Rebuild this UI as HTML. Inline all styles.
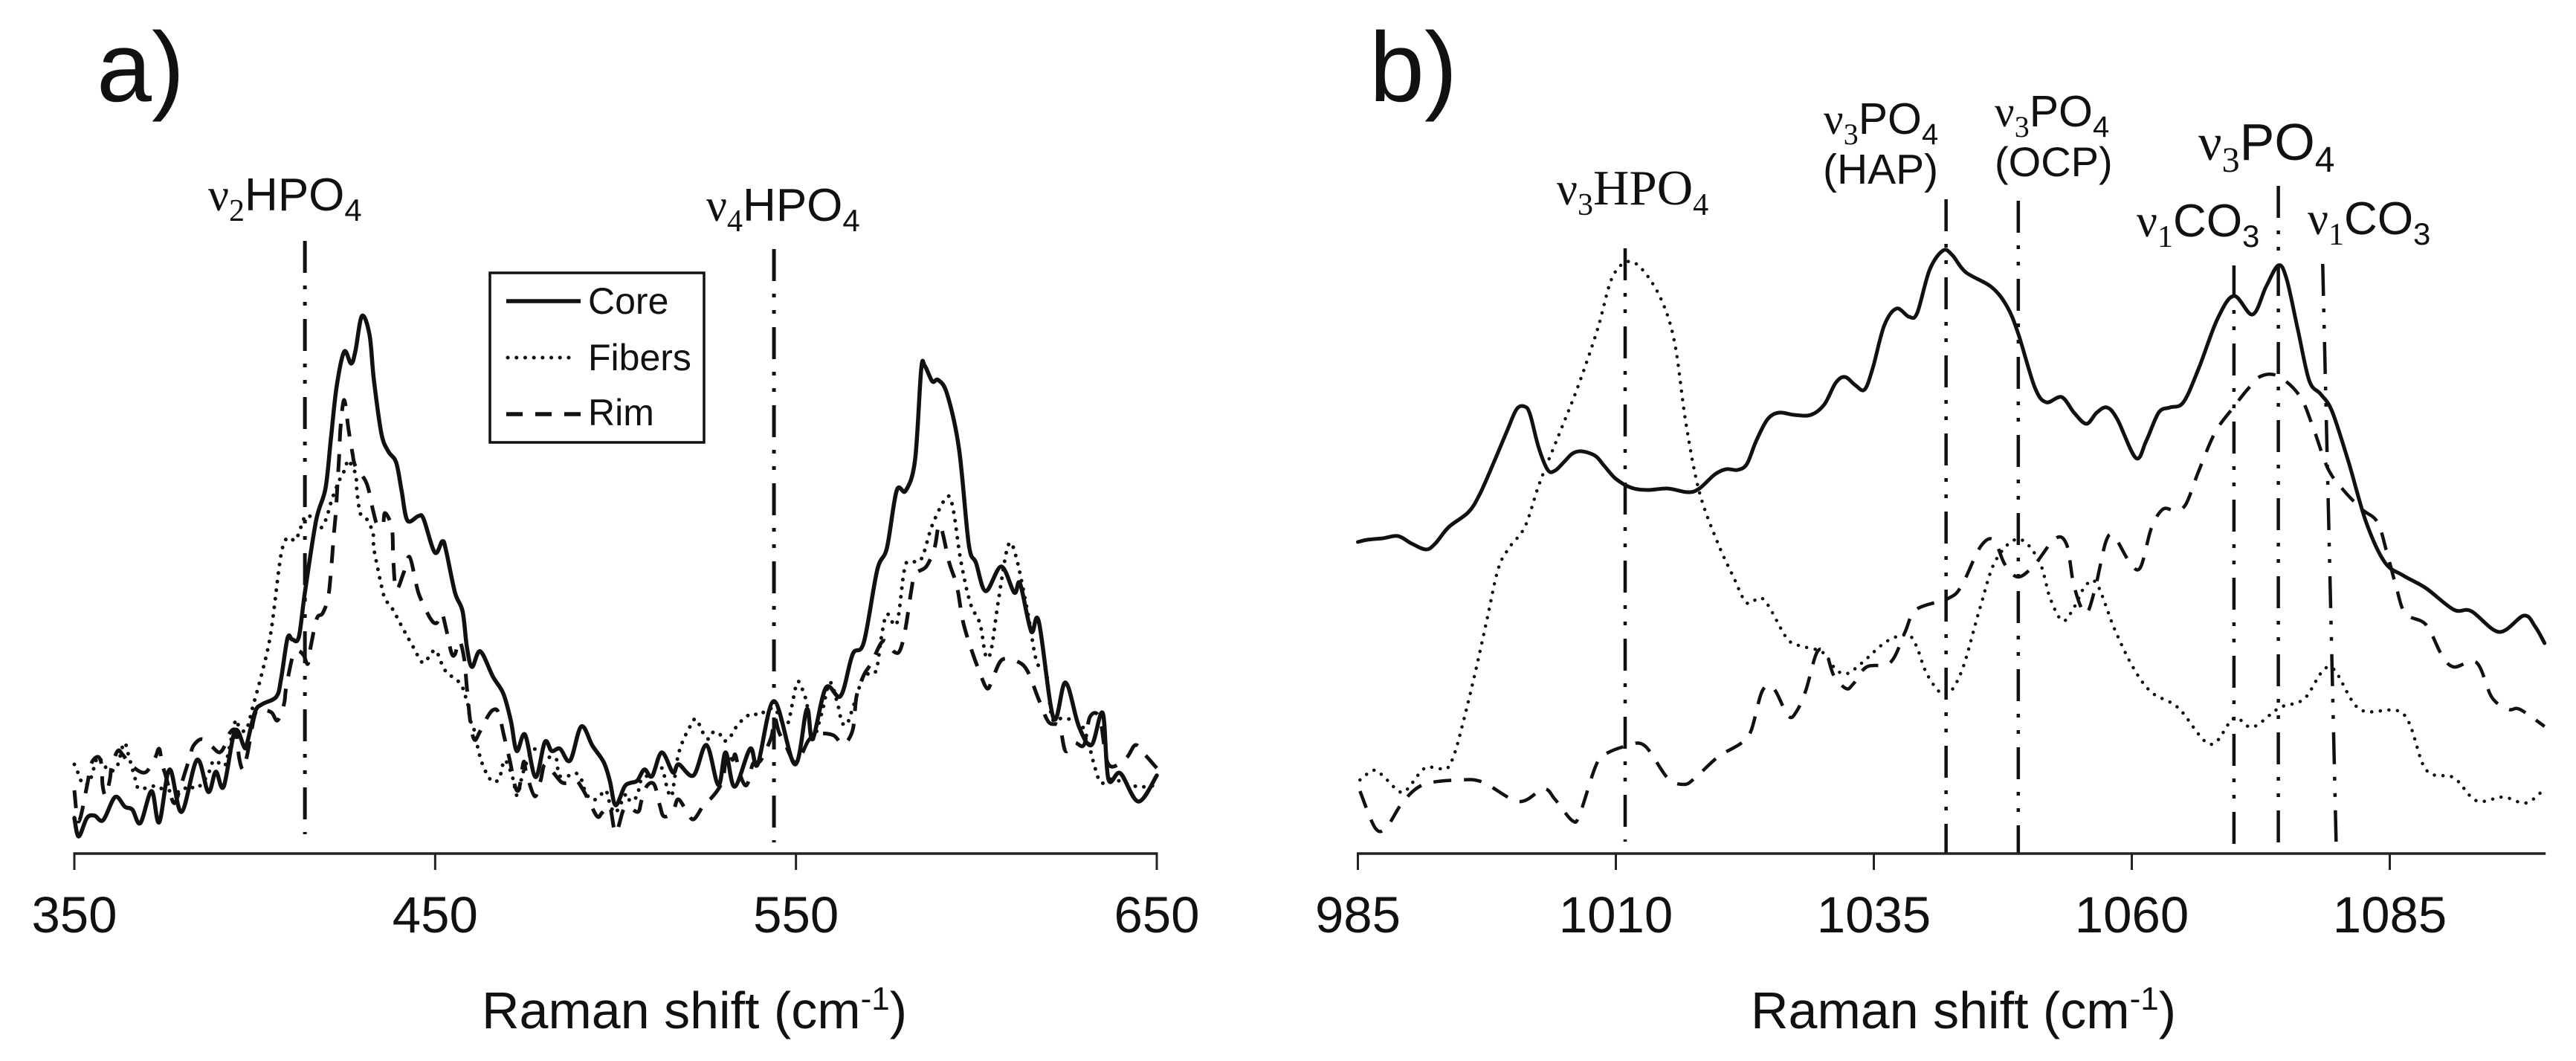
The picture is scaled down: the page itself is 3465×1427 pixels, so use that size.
<!DOCTYPE html>
<html lang="en">
<head>
<meta charset="utf-8">
<title>Raman spectra: Core, Fibers, Rim</title>
<style>
  html, body { margin: 0; padding: 0; background: #fff; }
  svg { display: block; position: absolute; left: 0; top: 0; }
  text { fill: #111; font-family: "Liberation Sans", sans-serif; }
  .sr { font-family: "Liberation Serif", serif; }
</style>
</head>
<body>
<svg id="chart" xmlns="http://www.w3.org/2000/svg" width="3465" height="1427" viewBox="0 0 3465 1427">
  <rect x="0" y="0" width="3465" height="1427" fill="#fff"/>

  <text x="130" y="136" font-size="133">a)</text>
  <text x="1842" y="136" font-size="133">b)</text>

  <g id="panel-a"></g>
  <g id="panel-b"></g>

  <text x="280" y="283" font-size="62"><tspan class="sr">ν</tspan><tspan class="sr" dy="14" font-size="42">2</tspan><tspan dy="-14">HPO</tspan><tspan dy="14" font-size="42">4</tspan></text>
  <text x="950" y="297" font-size="62"><tspan class="sr">ν</tspan><tspan class="sr" dy="14" font-size="42">4</tspan><tspan dy="-14">HPO</tspan><tspan dy="14" font-size="42">4</tspan></text>
  <text x="2094" y="275" font-size="62" class="sr"><tspan class="sr">ν</tspan><tspan class="sr" dy="14" font-size="42">3</tspan><tspan class="sr" dy="-14" font-size="67">HPO</tspan><tspan dy="14" font-size="42">4</tspan></text>
  <text x="2453" y="180" font-size="59"><tspan class="sr">ν</tspan><tspan class="sr" dy="14" font-size="40">3</tspan><tspan dy="-14">PO</tspan><tspan dy="14" font-size="40">4</tspan></text>
  <text x="2452" y="247" font-size="57">(HAP)</text>
  <text x="2683" y="170" font-size="59"><tspan class="sr">ν</tspan><tspan class="sr" dy="14" font-size="40">3</tspan><tspan dy="-14">PO</tspan><tspan dy="14" font-size="40">4</tspan></text>
  <text x="2683" y="237" font-size="56">(OCP)</text>
  <text x="2957" y="215" font-size="70"><tspan class="sr">ν</tspan><tspan class="sr" dy="16" font-size="48">3</tspan><tspan dy="-16">PO</tspan><tspan dy="16" font-size="48">4</tspan></text>
  <text x="2874" y="318" font-size="62"><tspan class="sr">ν</tspan><tspan class="sr" dy="14" font-size="42">1</tspan><tspan dy="-14">CO</tspan><tspan dy="14" font-size="42">3</tspan></text>
  <text x="3104" y="315" font-size="62"><tspan class="sr">ν</tspan><tspan class="sr" dy="14" font-size="42">1</tspan><tspan dy="-14">CO</tspan><tspan dy="14" font-size="42">3</tspan></text>

  <text x="648" y="1383" font-size="70">Raman shift (cm<tspan dy="-25" font-size="44">-1</tspan><tspan dy="25">)</tspan></text>
  <text x="2355" y="1383" font-size="70">Raman shift (cm<tspan dy="-25" font-size="44">-1</tspan><tspan dy="25">)</tspan></text>

  <g>
    <rect x="659" y="367" width="288" height="228" fill="#fff" stroke="#111" stroke-width="3.5"/>
    <line x1="681" y1="405" x2="781" y2="405" stroke="#111" stroke-width="5.5"/>
    <line x1="683" y1="481" x2="775" y2="481" stroke="#111" stroke-width="5" stroke-linecap="round" stroke-dasharray="0.1 11.6"/>
    <line x1="681" y1="557" x2="781" y2="557" stroke="#111" stroke-width="5.5" stroke-dasharray="22 17"/>
    <text x="791" y="422" font-size="50">Core</text>
    <text x="791" y="498" font-size="50">Fibers</text>
    <text x="791" y="572" font-size="50">Rim</text>
  </g>
</svg>

<script>
// ---------- Panel a data: wavenumber (cm-1) and relative intensity (a.u.) ----------
const coreAWn = [350,351.2,353.5,355.6,358,361.3,364,366.1,368.3,371.4,373.5,376.4,379.7,384,387.1,389.2,391.4,394.5,397.2,398,400.1,402.1,406,407.3,409.1,410.4,412.2,413.9,417,419.6,421.1,422.7,424.8,426.7,427.9,429.7,431.8,433,435.1,437,439.2,440.7,442.3,445.4,446.8,449.9,452,453,455.5,457.6,458.8,460.2,462.5,466,468.9,471,472.6,474.9,477.8,480.4,482.3,484.6,487.4,490.5,493.6,496.7,498.4,500,502.5,504.1,506,508,510.1,512.8,515.9,517.5,521.6,525.2,528.5,530.5,533,537.3,539.4,543.9,549.7,553,554.6,558.3,562.4,565.7,568.8,572.5,575.2,577.9,580.4,583,584.7,585.7,587.8,589.4,591.9,595.2,597.9,599.9,602.6,606.9,610.5,612.1,615.2,617.3,621.4,624.7,628.4,631.9,635,636.6,639.9,644.9,650];
const coreAInt = [4.8,2.3,4.8,5.1,4.5,7.6,6.3,5.9,4.1,8.4,4.2,11.3,5.6,12.6,8.3,11,9,16.5,14.2,15.1,19.1,20.1,21.1,23.5,29,28.8,29.1,35.1,44.8,49.1,55.8,62.8,67.5,65.9,67.6,72.3,69.8,63.8,56.5,54.1,52.6,48.8,44.8,45.4,45,40.5,42,40.8,35.1,32.6,27.8,25.1,27.2,23.8,21.5,17.8,13.8,16,10.3,15,13.8,14.1,12.5,17.1,14.5,12.3,9.8,6.5,9,9.5,9.8,11.3,10.4,13.6,10.9,12,10.5,14.6,9.2,13.6,9,14.1,12,20.5,12,19.4,15.4,22.3,21.2,26.8,28.4,38.1,41.1,48.8,48.8,52.9,65.1,65.6,63.5,63.7,61.8,54.4,41.6,39.1,35.3,38.6,35.1,36.3,29.9,31.2,18.2,23,17.1,14.6,18.9,10,10.8,7,10.5];

const fibersAWn = [350,350.6,352.3,354.1,355.6,356.6,358.7,360.3,362,363.8,365.2,367.1,368.1,372.5,374.9,379.5,381.5,384,386.9,388.7,391.6,392.9,394.7,395.7,397.6,399.5,401.9,404.4,406.7,407.7,409.1,411.2,412.2,413.9,415.5,418,419.4,420.3,421.5,423.8,425.2,425.8,427.9,428.3,428.9,429.5,431,432,432.8,433,433.9,434.9,435.9,437.2,438.6,439.6,441.7,443.9,446.2,447.5,448.9,450.4,451.2,453.2,455.1,456.7,457.8,458.6,459.2,459.6,460.7,461.7,462.9,464.8,466.4,467.9,469.1,470.3,471.6,472.8,474.5,477.3,480.8,483.5,484.4,487.4,489.1,490.5,491.8,493.8,495.7,497.3,498.4,500,502.9,504.1,506,507,508.9,512.6,513.4,514.4,515.5,516.3,517.3,518.8,520.8,522.3,524.3,525.8,527,528.7,529.9,531.5,534,537.5,539.8,541.6,544.1,545.8,547.8,548.8,550.3,551.5,553,554.6,557.1,559.4,561.6,562.7,564.1,565.7,568.8,572.1,573.6,575.2,577.9,580,581.4,584.7,587.8,591.9,593.6,595.6,598.3,601,602.6,604.1,606.1,608.8,610.9,614.2,616.7,619.3,621,624.1,629.4,632.9,634.6,637.7,644.7,650];
const fibersAInt = [12,11.4,9.4,9.6,11.8,13,11.6,11.1,11.9,14.9,12.9,9.7,8.7,9.1,8.6,8.3,9.1,8.8,10.5,12.5,11.8,14.1,17.9,17,16.6,19.8,24.1,29.5,38.3,41.1,42.5,42.1,43.1,45.3,45.3,43.8,44.6,45.8,47.8,50.6,51.8,52.9,51.1,48.8,46.6,45.5,45,44.1,43.1,41.1,38.8,36.5,34.5,33.5,32.6,31.6,29.7,27.8,25.8,25.9,27,27.3,26.2,24.3,23.7,23,22.1,20.8,19.8,18.1,16.8,14.5,12.3,10.3,9.6,10.3,12.5,11.8,10,7.8,11.1,14,13,12.8,10.5,10.5,10.8,10,8.1,7.2,7.8,8.5,6.8,5.5,8,7,7.8,9.8,10.5,11.5,10.7,8.6,7.7,9.9,13.1,15.3,17.2,18.1,16.2,15.4,16.3,16.2,15.2,15.5,17.4,18.8,18.6,19.2,19.5,18,17.6,19.7,23,22.4,20.2,15.4,18.8,23,20,17.7,17.4,19.5,23.8,24.5,28.9,32.2,30.9,38.1,39.3,39.6,44.2,48,46.2,39.6,33.7,30.9,26.6,27.4,34,41.4,40.1,32.5,25.8,24.5,18.2,18.2,17.1,11.5,9.5,10,9,9.2];

const rimAWn = [350,351.2,353.5,354.7,356.6,357.6,357.8,358.7,359.9,360.3,362,363.4,365.9,369.6,372.3,373.5,374.3,375.3,377.2,378.2,379.5,381.9,383,385.4,388.1,390.2,391.8,392.9,394.7,395.7,396.8,398,400.1,401.9,404.6,406.3,408.1,408.7,410.4,411.8,413.5,414.7,415.5,417.2,418.8,420.3,421.1,421.9,422.5,422.9,423.4,423.8,424.8,426,427.1,427.9,431,432.8,433.9,435.5,436.1,438,438.4,439.2,441.3,442.9,444.8,445.8,448.7,450.4,451.8,453,454.5,455.5,456.7,458,458.8,459.8,460.9,462.3,464.4,466,467.5,469.1,470.8,472,473.2,474.5,475.3,477.6,479.2,480.4,482.9,485,487,489.1,490.7,492.2,494.9,496.3,498.4,500,502.1,503.5,506.2,507.2,508.7,510.7,512.2,513.4,515.9,517.3,519.6,521.6,524.5,526.6,528.9,529.9,530.9,532.4,533.2,534.4,535.9,536.9,538.1,540.2,543.1,544.1,545.3,547.2,549.5,551.3,553.6,556.3,560.4,563.1,565.7,566.8,568.8,570.9,574.2,577.3,578.9,580.4,582,583,586.1,588.4,589.9,592.5,594.6,596.2,598.3,600.6,603,604.7,607.2,611.5,614.2,617.3,620,623,624.7,627.2,629.8,631.5,634.2,636.6,641.4,644.1,646.7,650];
const rimAInt = [8.5,4.3,9.1,12.1,13,11.8,9.3,7.8,10.1,11.6,13.8,13.3,11.8,10.9,12.8,14.1,12.1,10.5,7.1,7.1,9.1,12.8,14.5,15.4,14.4,13.6,14.6,16.1,16.5,12.8,11.3,13.5,18.8,19.3,19,17.9,20.1,22.3,26.3,27.3,26.7,25.5,27.8,31.6,32.3,34.3,37.8,42.8,46.1,49.5,53.5,57.5,61,57,53.8,52.1,49.8,46.1,44.3,44.1,45.8,43.8,39.5,35.5,37.8,39.9,36.1,34.5,31.6,31,32.3,30.3,27,26.8,28.6,26.3,22.3,17.5,15.3,16.3,18.3,19.3,19,15.8,12.3,9.3,8.6,12.3,10.8,7.7,9.8,12,10.8,9.6,9.5,9.8,8.8,7.5,5,5.5,6.3,2.8,5.8,6.3,5.6,7.1,9.1,9.3,6.6,5,5.6,7.3,5.8,4.6,6.6,7.5,9,10.3,13.8,12.6,13.3,10.8,9.2,9.8,12.1,12.5,15.6,18.2,16.3,14.5,12.3,13.1,15.3,16.1,15.9,14.7,16.6,21.2,24,25.6,28.6,27.1,27.4,30.4,35.5,37.6,38.6,41.1,44.2,39.1,36,31.4,27.9,24.8,22.2,23.8,26.1,25.8,24.5,20.7,17.7,17.1,13.8,14.9,14.6,18.4,18.2,12,12.8,14.6,13.3,11.5];

// ---------- Panel b data ----------
const coreBWn = [985,985.9,987.4,988.9,990.2,991.6,992.5,993.8,995.7,996.8,998.2,999.5,1000.4,1001.2,1001.7,1002.5,1003.4,1004.1,1005,1005.8,1006.7,1008,1008.9,1010,1011.5,1013.1,1015,1017,1018.1,1019.6,1020.7,1021.8,1022.7,1023.6,1024.7,1025.8,1027.3,1028.9,1030.2,1031.3,1032.2,1033.2,1034.1,1034.9,1036,1037.2,1038.4,1039.2,1040.4,1041.7,1042.6,1043.9,1046.4,1047.9,1049,1050.6,1051.7,1053.2,1054.4,1055.6,1056.6,1057.6,1058.6,1060.4,1061.4,1062.6,1063.7,1065,1066.5,1068.3,1069.9,1071.7,1073,1074.2,1075,1076.1,1077.2,1078.3,1079.4,1081,1082.7,1084.5,1086.3,1088.5,1091.2,1092.9,1095.6,1098,1099.1,1100];
const coreBInt = [41.9,42.2,42.4,42.7,41.7,40.9,41.7,43.9,45.9,48.3,52.7,57,59.8,60.1,59,54.7,51.6,51.5,52.7,53.8,54.1,53.5,52.1,50.4,49.2,48.9,49.1,48.6,49.1,51,51.7,51.6,52.4,55.5,58.4,59.3,59,59,60.4,63.3,64.1,63,62.4,65.3,71,73.3,72.2,72.7,78.5,81.1,80.5,78.2,76.2,73.6,69.9,62.7,60.7,61.4,59.3,57.8,59.3,60,58.4,53.2,55.5,59.3,60,60.7,65.3,71.9,75,72.5,76.2,79.1,77.3,70.4,63.6,61.8,59.5,52.7,44.6,39.2,37.4,35.7,32.8,32.6,29.8,32,30.5,28.3];

const fibersBWn = [985.2,986.5,987.4,988.7,989.6,991.3,992.4,993.6,994.4,995.3,996.4,997.5,998.6,999.7,1001.2,1002.6,1004.5,1006.3,1008.2,1009.6,1011.1,1012.6,1014.4,1015.7,1016.8,1018.1,1019.9,1021.4,1022.7,1024.3,1026.5,1027.7,1030,1031.3,1032.4,1033.9,1036.2,1038.2,1039.1,1040.2,1041.9,1043.5,1045.3,1046.8,1049,1051,1052.1,1053.3,1054.4,1055.5,1056.6,1058.3,1060.1,1061.9,1064.5,1067.6,1069.9,1071.7,1074.3,1076.7,1079.2,1082.1,1086.3,1088.5,1091.2,1093.4,1096,1098.2,1100];
const fibersBInt = [9.9,11.2,10.5,8.7,8.4,11.3,11.6,11.4,13.6,18.2,24.5,31.4,38.3,41.2,44,49.8,56.4,62.7,70.4,77.3,79.6,78.5,74.5,68.7,57.8,48.6,41.7,37.2,33.7,34.2,29.1,28,27.1,24.8,24.2,25.7,28.5,29.4,28,24,21.4,24.5,33.1,39.4,42.3,39.4,34.3,31.3,33.1,36,36.3,30.3,25.1,21.7,19.6,14.7,18.2,17,19.6,20.8,25.1,19.4,18.8,11.3,10.2,7.1,7.6,6.8,8.7];

const rimBWn = [985.2,986.7,987.8,989.4,991.4,994.9,997.1,1000.6,1003,1004.1,1005.8,1006.5,1008,1008.9,1011.1,1012.8,1015,1016.6,1017.7,1019.9,1022.1,1023.1,1024.2,1025.3,1026.7,1027.5,1028.4,1029.5,1030.4,1031.1,1032.3,1033,1034.3,1036.6,1038,1039.1,1042.2,1043.5,1045.3,1046.6,1047.7,1049,1050.6,1052.6,1053.7,1054.4,1055.5,1056.4,1057.5,1058.3,1059.7,1060.8,1061.9,1063,1064.1,1065.2,1066.5,1068.1,1069.9,1071.2,1072.5,1074.2,1076.3,1077.6,1079,1080.5,1082.3,1083.8,1084.7,1085.6,1086.5,1088.5,1090,1091.2,1093.4,1094.9,1096.5,1097.6,1100];
const rimBInt = [8.4,3.4,3.6,7,9.3,9.9,9.6,7,8.7,7.3,4.4,5.3,11.6,13.3,14.5,14.5,10.2,9.3,10.2,13,14.8,16.5,21.9,22.2,18.5,19.1,21.9,27.1,26.8,24,22.2,22.8,25.1,25.7,29.7,32.8,34.3,36,41.2,42.2,38.9,37.2,38.9,42.4,41.5,36,32.3,35.4,42,42.6,39.4,38.4,43.8,46.3,46.2,46.9,51.5,56.7,60.1,62.4,64.2,64.2,61.5,57.2,51.8,48.9,46.3,44.6,40.6,36,32.3,30.8,26.8,25.1,25.7,21,19.4,19.4,17.1];

// ---------- Axis ticks ----------
const ticksA = [350, 450, 550, 650];
const ticksB = [985, 1010, 1035, 1060, 1085];

// ---------- Peak marker lines: position (cm-1) and vertical extent (intensity) ----------
const markerAWn = [413.9, 543.9];
const markerATop = [82.4, 81.3];
const markerABottom = [2.6, 1.5];
const markerBWnTop = [1010.9, 1042.0, 1049.0, 1069.9, 1074.2, 1078.5];
const markerBWnBottom = [1010.9, 1042.0, 1049.0, 1069.9, 1074.2, 1079.8];
const markerBTop = [81.4, 88.0, 87.8, 79.1, 89.8, 79.3];
const markerBBottom = [1.6, 0, 0, 1.3, 1.3, 1.6];

// ---------- Scales ----------
const AXIS_Y = 1148;
function xA(v) { return 100 + (v - 350) * (1456 / 300); }
function xB(v) { return 1826.5 + (v - 985) * 13.88; }
function yI(v) { return AXIS_Y - v * 10; }

const NS = 'http://www.w3.org/2000/svg';

function smoothPath(xs, ys, sx) {
  const pts = xs.map(function (x, i) { return [sx(x), yI(ys[i])]; });
  let d = 'M' + pts[0][0].toFixed(1) + ' ' + pts[0][1].toFixed(1);
  for (let i = 0; i < pts.length - 1; i++) {
    const p0 = pts[Math.max(i - 1, 0)];
    const p1 = pts[i];
    const p2 = pts[i + 1];
    const p3 = pts[Math.min(i + 2, pts.length - 1)];
    const c1x = p1[0] + (p2[0] - p0[0]) / 6;
    const c1y = p1[1] + (p2[1] - p0[1]) / 6;
    const c2x = p2[0] - (p3[0] - p1[0]) / 6;
    const c2y = p2[1] - (p3[1] - p1[1]) / 6;
    d += 'C' + c1x.toFixed(1) + ' ' + c1y.toFixed(1) + ' ' + c2x.toFixed(1) + ' ' + c2y.toFixed(1) + ' ' + p2[0].toFixed(1) + ' ' + p2[1].toFixed(1);
  }
  return d;
}

function addSeries(group, name, xs, ys, sx, kind, width) {
  const path = document.createElementNS(NS, 'path');
  
  
  path.setAttribute('d', smoothPath(xs, ys, sx));
  path.setAttribute('fill', 'none');
  path.setAttribute('stroke', '#111');
  path.setAttribute('stroke-width', width);
  path.setAttribute('stroke-linejoin', 'round');
  if (kind === 'dotted') {
    path.setAttribute('stroke-linecap', 'round');
    path.setAttribute('stroke-dasharray', '0.1 11.5');
  } else if (kind === 'dashed') {
    path.setAttribute('stroke-dasharray', '24 17');
  } else {
    path.setAttribute('stroke-linecap', 'round');
  }
  group.appendChild(path);
}

function addMarker(group, name, x1, y1, x2, y2, width) {
  const line = document.createElementNS(NS, 'line');
  
  
  line.setAttribute('x1', x1);
  line.setAttribute('y1', y1);
  line.setAttribute('x2', x2);
  line.setAttribute('y2', y2);
  line.setAttribute('stroke', '#111');
  line.setAttribute('stroke-width', width);
  line.setAttribute('stroke-dasharray', '43 17 5 17 5 18');
  group.appendChild(line);
}

function addAxis(group, prefix, ticks, sx, xMin, xMax) {
  const axis = document.createElementNS(NS, 'line');
  
  
  axis.setAttribute('x1', sx(xMin) - 1.5);
  axis.setAttribute('y1', AXIS_Y);
  axis.setAttribute('x2', sx(xMax) + 1.5);
  axis.setAttribute('y2', AXIS_Y);
  axis.setAttribute('stroke', '#222');
  axis.setAttribute('stroke-width', 3.5);
  group.appendChild(axis);
  ticks.forEach(function (t) {
    const tick = document.createElementNS(NS, 'line');
    
    
    tick.setAttribute('x1', sx(t));
    tick.setAttribute('y1', AXIS_Y);
    tick.setAttribute('x2', sx(t));
    tick.setAttribute('y2', AXIS_Y + 22);
    tick.setAttribute('stroke', '#222');
    tick.setAttribute('stroke-width', 3);
    group.appendChild(tick);
    const label = document.createElementNS(NS, 'text');
    
    
    label.setAttribute('x', sx(t));
    label.setAttribute('y', 1254);
    label.setAttribute('font-size', 69);
    label.setAttribute('text-anchor', 'middle');
    label.textContent = String(t);
    group.appendChild(label);
  });
}

const groupA = document.getElementById('panel-a');
const groupB = document.getElementById('panel-b');

addSeries(groupA, 'series-fibers-a', fibersAWn, fibersAInt, xA, 'dotted', 5);
addSeries(groupA, 'series-rim-a', rimAWn, rimAInt, xA, 'dashed', 5);
addSeries(groupA, 'series-core-a', coreAWn, coreAInt, xA, 'solid', 5.5);
markerAWn.forEach(function (w, i) {
  addMarker(groupA, 'peak-marker-a-' + (i + 1), xA(w), yI(markerATop[i]), xA(w), yI(markerABottom[i]), 5);
});
addAxis(groupA, 'panel-a', ticksA, xA, 350, 650);

addSeries(groupB, 'series-fibers-b', fibersBWn, fibersBInt, xB, 'dotted', 4.5);
addSeries(groupB, 'series-rim-b', rimBWn, rimBInt, xB, 'dashed', 4.5);
addSeries(groupB, 'series-core-b', coreBWn, coreBInt, xB, 'solid', 5);
markerBWnTop.forEach(function (w, i) {
  addMarker(groupB, 'peak-marker-b-' + (i + 1), xB(w), yI(markerBTop[i]), xB(markerBWnBottom[i]), yI(markerBBottom[i]), 4.5);
});
addAxis(groupB, 'panel-b', ticksB, xB, 985, 1100);
</script>
</body>
</html>
